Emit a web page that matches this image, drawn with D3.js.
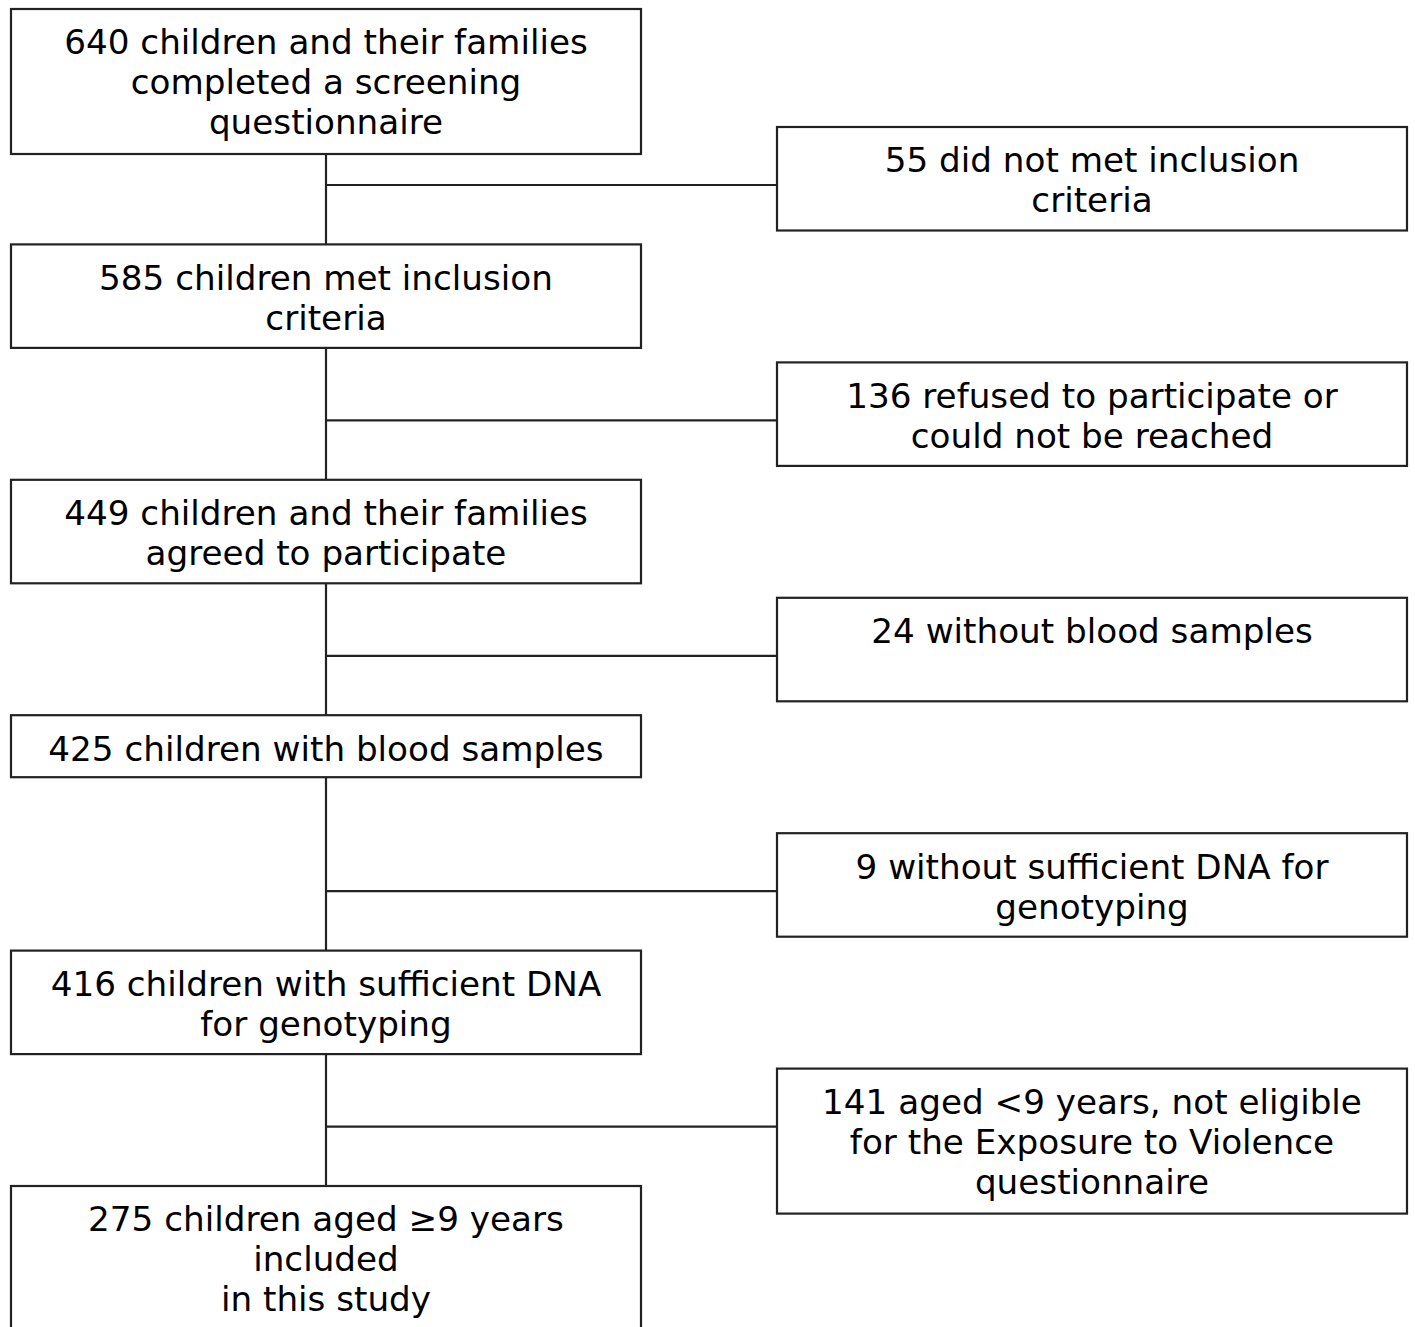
<!DOCTYPE html>
<html>
<head>
<meta charset="utf-8">
<script src="https://cdn.jsdelivr.net/npm/d3@7"></script>
<style>
  html, body { margin: 0; padding: 0; background: #fff; }
  svg { display: block; }
</style>
</head>
<body>
<div id="chart"></div>
<script>
// Flow of participants, one entry per step
const mainSteps = [
  ['640 children and their families', 'completed a screening', 'questionnaire'],
  ['585 children met inclusion', 'criteria'],
  ['449 children and their families', 'agreed to participate'],
  ['425 children with blood samples'],
  ['416 children with sufficient DNA', 'for genotyping'],
  ['275 children aged \u22659 years', 'included', 'in this study']
];

const exclusions = [
  ['55 did not met inclusion', 'criteria'],
  ['136 refused to participate or', 'could not be reached'],
  ['24 without blood samples'],
  ['9 without sufficient DNA for', 'genotyping'],
  ['141 aged <9 years, not eligible', 'for the Exposure to Violence', 'questionnaire']
];

///////// Layout //////////
const width = 1415;
const height = 1327;

const svg = d3
  .select('#chart')
  .append('svg')
  .attr('width', width)
  .attr('height', height);

// step index -> top of the box
const yScale = d3.scaleLinear().domain([0, mainSteps.length - 1]).range([9, 1186]);
const mainX = 11, mainW = 630;
const sideX = 777, sideW = 630;
const spineX = mainX + mainW / 2;
const lineGap = 40;
const sideOffset = 118;
const branchOffset = 176;

// box height from number of lines
const boxHeight = (n) => 62 + (n - 1) * 41.5;

const stroke = '#222';
const font = '"DejaVu Sans", Verdana, sans-serif';

// spine
svg
  .append('line')
  .attr('x1', spineX)
  .attr('x2', spineX)
  .attr('y1', yScale(0))
  .attr('y2', yScale(mainSteps.length - 1))
  .attr('stroke', stroke)
  .attr('stroke-width', 2.2);

// branches to exclusion boxes
svg
  .selectAll('.branch')
  .data(exclusions)
  .enter()
  .append('line')
  .attr('class', 'branch')
  .attr('x1', spineX)
  .attr('x2', sideX)
  .attr('y1', (d, i) => yScale(i) + branchOffset)
  .attr('y2', (d, i) => yScale(i) + branchOffset)
  .attr('stroke', stroke)
  .attr('stroke-width', 2.2);

function drawBox(g, x, y, w, h, lines) {
  g.append('rect')
    .attr('x', x)
    .attr('y', y)
    .attr('width', w)
    .attr('height', h)
    .attr('fill', '#fff')
    .attr('stroke', stroke)
    .attr('stroke-width', 2.2);

  g.append('text')
    .attr('x', x + w / 2)
    .attr('y', y + 33.5)
    .attr('text-anchor', 'middle')
    .attr('font-family', font)
    .attr('font-size', 34.2)
    .attr('fill', '#000')
    .selectAll('tspan')
    .data(lines)
    .enter()
    .append('tspan')
    .attr('x', x + w / 2)
    .attr('dy', (d, j) => (j === 0 ? '0.35em' : lineGap))
    .text((d) => d);
}

mainSteps.forEach((lines, i) => {
  const last = i === mainSteps.length - 1;
  const h = last ? 180 : boxHeight(lines.length);
  drawBox(svg.append('g'), mainX, yScale(i), mainW, h, lines);
});

exclusions.forEach((lines, i) => {
  const h = boxHeight(Math.max(2, lines.length));
  drawBox(svg.append('g'), sideX, yScale(i) + sideOffset, sideW, h, lines);
});
</script>
</body>
</html>
